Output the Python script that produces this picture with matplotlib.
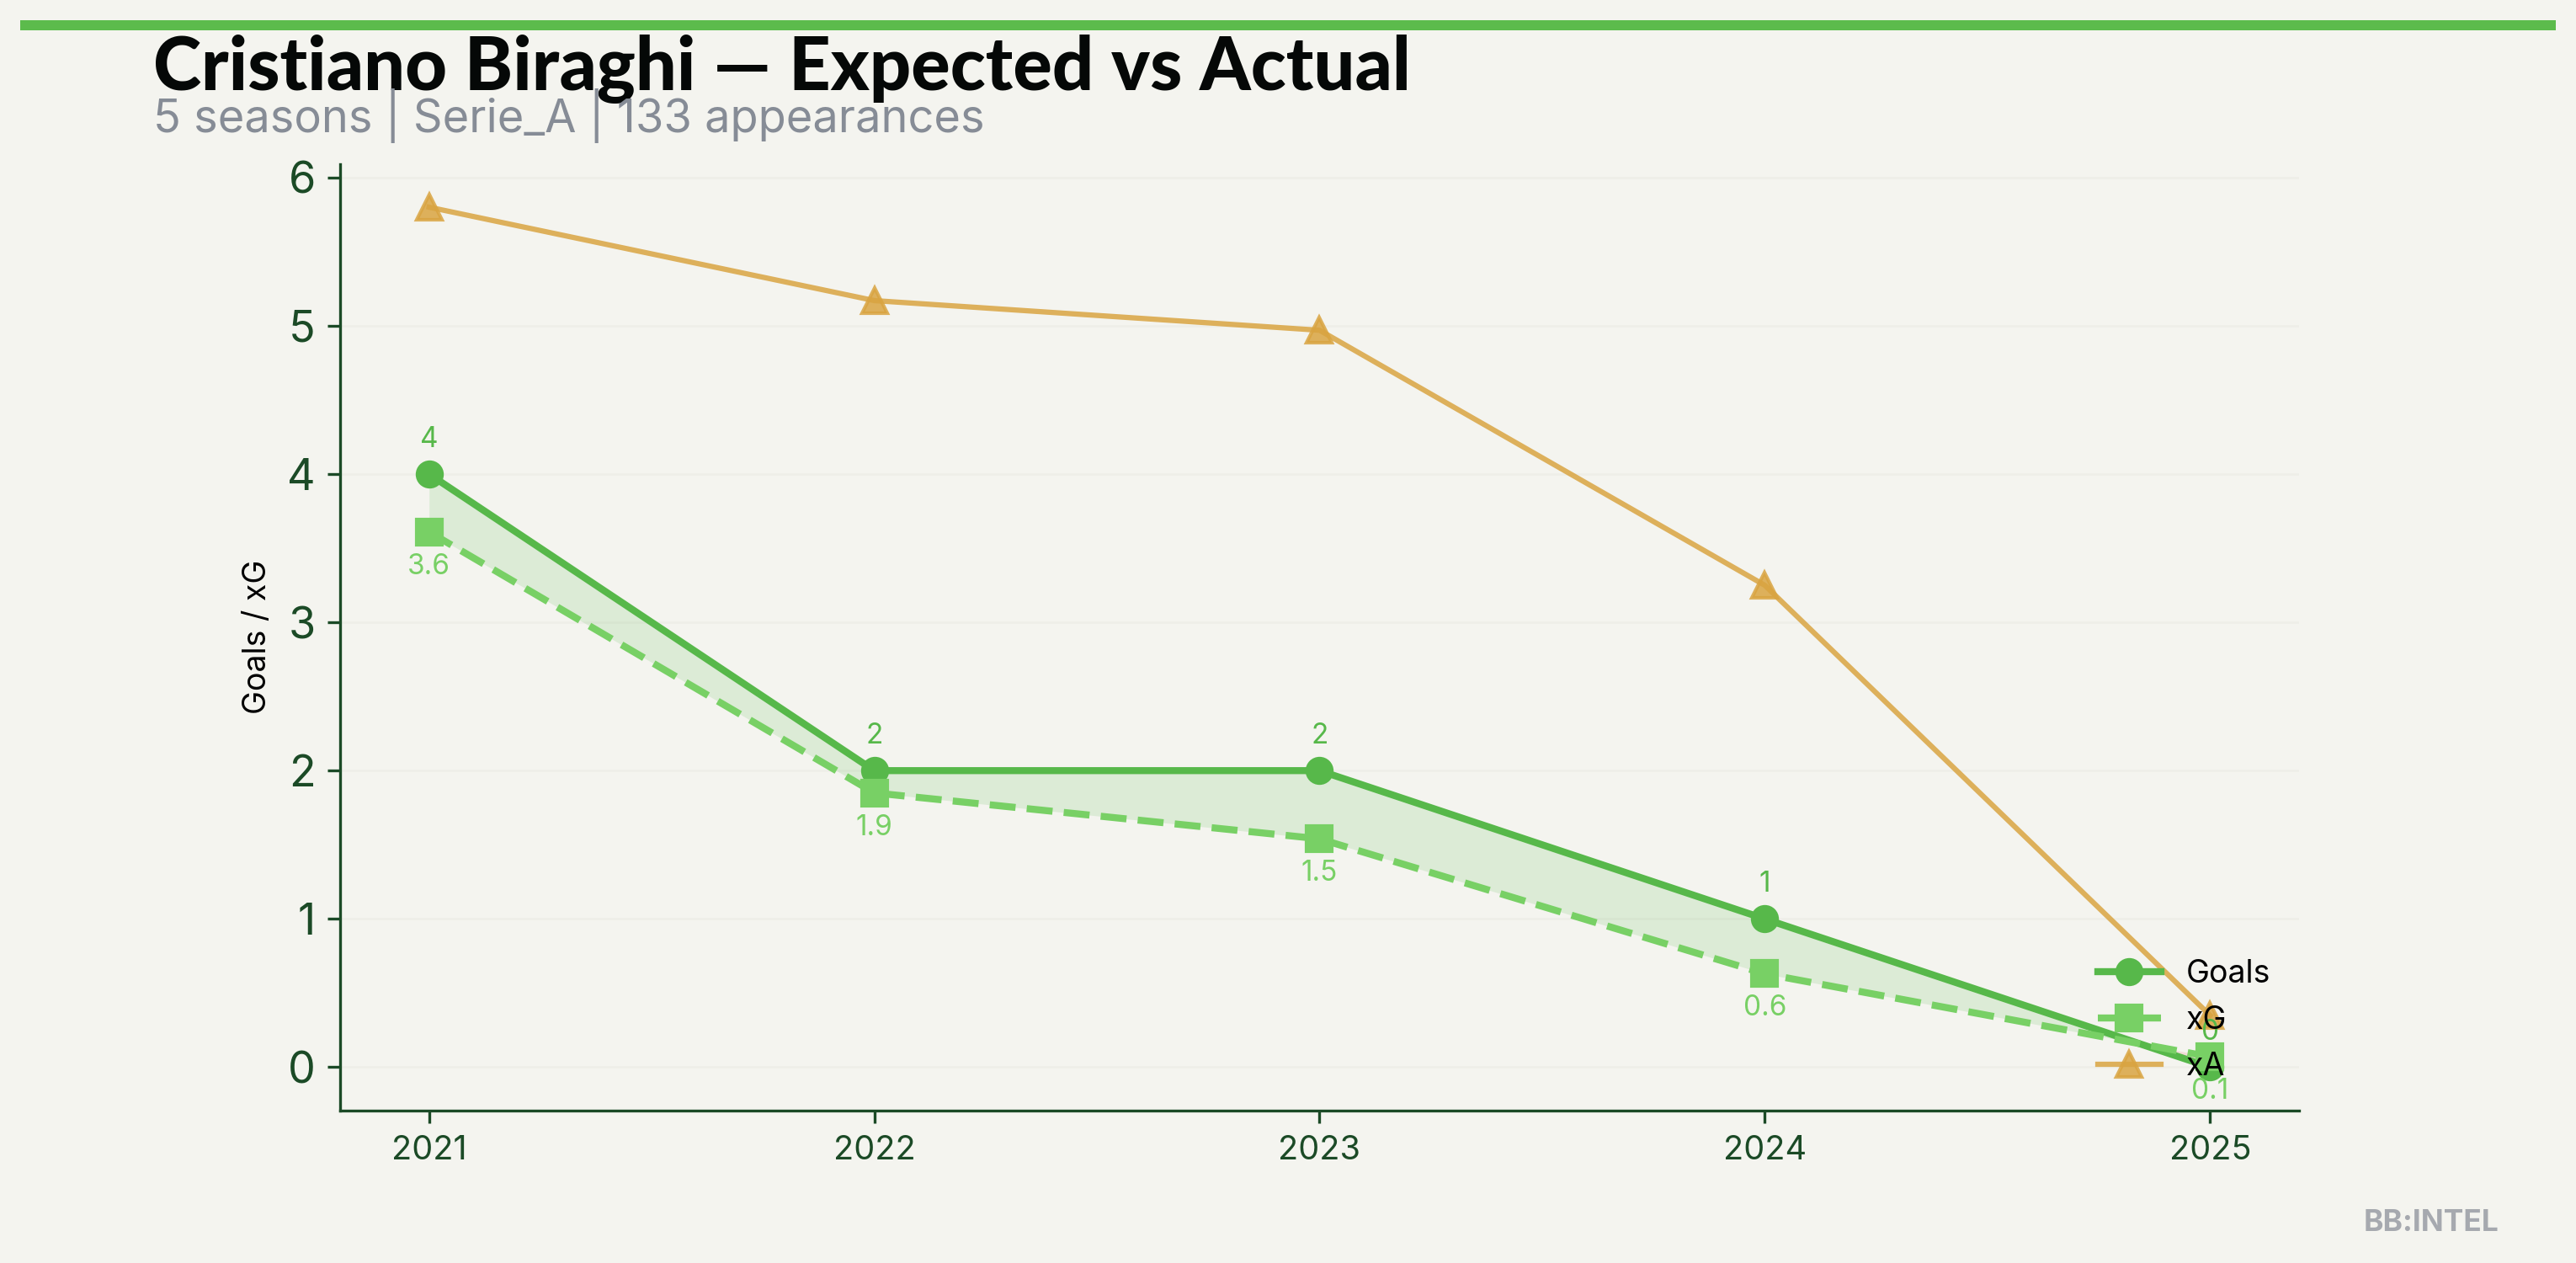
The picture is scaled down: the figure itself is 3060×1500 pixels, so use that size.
import matplotlib
matplotlib.use("Agg")
import matplotlib.pyplot as plt
from matplotlib.patches import Rectangle

# data
seasons = [2021, 2022, 2023, 2024, 2025]
goals = [4, 2, 2, 1, 0]
xg = [3.61, 1.85, 1.54, 0.63, 0.07]
xa = [5.8, 5.17, 4.97, 3.25, 0.35]

title = "Cristiano Biraghi \u2014 Expected vs Actual"
subtitle = "5 seasons | Serie_A | 133 appearances"

# colors
bg_col = "#F4F4EF"
goals_col = "#57B84A"
xg_col = "#78D065"
xa_col = "#D9A441"
axis_col = "#1B4A26"
sub_col = "#868C96"

plt.rcParams["font.family"] = ["Inter", "DejaVu Sans"]

fig = plt.figure(figsize=(10.2, 5), dpi=300, facecolor=bg_col)
ax = fig.add_axes([0.132, 0.121, 0.7605, 0.749])
ax.set_facecolor(bg_col)

ax.plot(seasons, xa, "-^", color=xa_col, alpha=0.85, lw=1.5, markersize=7, label="xA")
ax.fill_between(seasons, goals, xg, where=[g >= x for g, x in zip(goals, xg)],
                interpolate=True, color=goals_col, alpha=0.15, lw=0)
ax.fill_between(seasons, goals, xg, where=[g < x for g, x in zip(goals, xg)],
                interpolate=True, color="#E05050", alpha=0.15, lw=0)
ax.plot(seasons, goals, "-o", color=goals_col, lw=2, markersize=7, label="Goals")
ax.plot(seasons, xg, "--s", color=xg_col, lw=2, markersize=7, label="xG")

for s, g in zip(seasons, goals):
    ax.annotate(f"{g}", (s, g), xytext=(0, 6), textcoords="offset points",
                ha="center", va="bottom", fontsize=8, color=goals_col)
for s, x in zip(seasons, xg):
    ax.annotate(f"{x:.1f}", (s, x), xytext=(0, -6), textcoords="offset points",
                ha="center", va="top", fontsize=8, color=xg_col)

ax.set_xticks(seasons)
ax.set_xticklabels([str(s) for s in seasons])
ax.tick_params(axis="x", labelsize=9.5, colors=axis_col)
ax.tick_params(axis="y", labelsize=12.5, colors=axis_col)
ax.set_ylabel("Goals / xG", fontsize=9, color="black")
ax.grid(axis="y", color="#EEEEE8", lw=0.6)
ax.set_axisbelow(True)
for side in ["top", "right"]:
    ax.spines[side].set_visible(False)
for side in ["left", "bottom"]:
    ax.spines[side].set_color(axis_col)

handles, labels = ax.get_legend_handles_labels()
order = [labels.index(n) for n in ["Goals", "xG", "xA"]]
ax.legend([handles[i] for i in order], [labels[i] for i in order],
          loc="lower right", frameon=False, fontsize=9)

# header
fig.add_artist(Rectangle((0.008, 0.976), 0.984, 0.008, transform=fig.transFigure,
                         color="#5CBB4C", lw=0))
fig.text(0.0595, 1 - 107 / 1500, title, fontsize=20.8, fontweight="black",
         family=["Lato", "DejaVu Sans"], color="#050807")
fig.text(0.0595, 1 - 157 / 1500, subtitle, fontsize=13, color=sub_col)
fig.text(0.970, 0.025, "BB:INTEL", fontsize=8.5, fontweight="bold",
         color="#A6A9AF", ha="right")

fig.savefig("out.png", dpi=300, facecolor=bg_col)
